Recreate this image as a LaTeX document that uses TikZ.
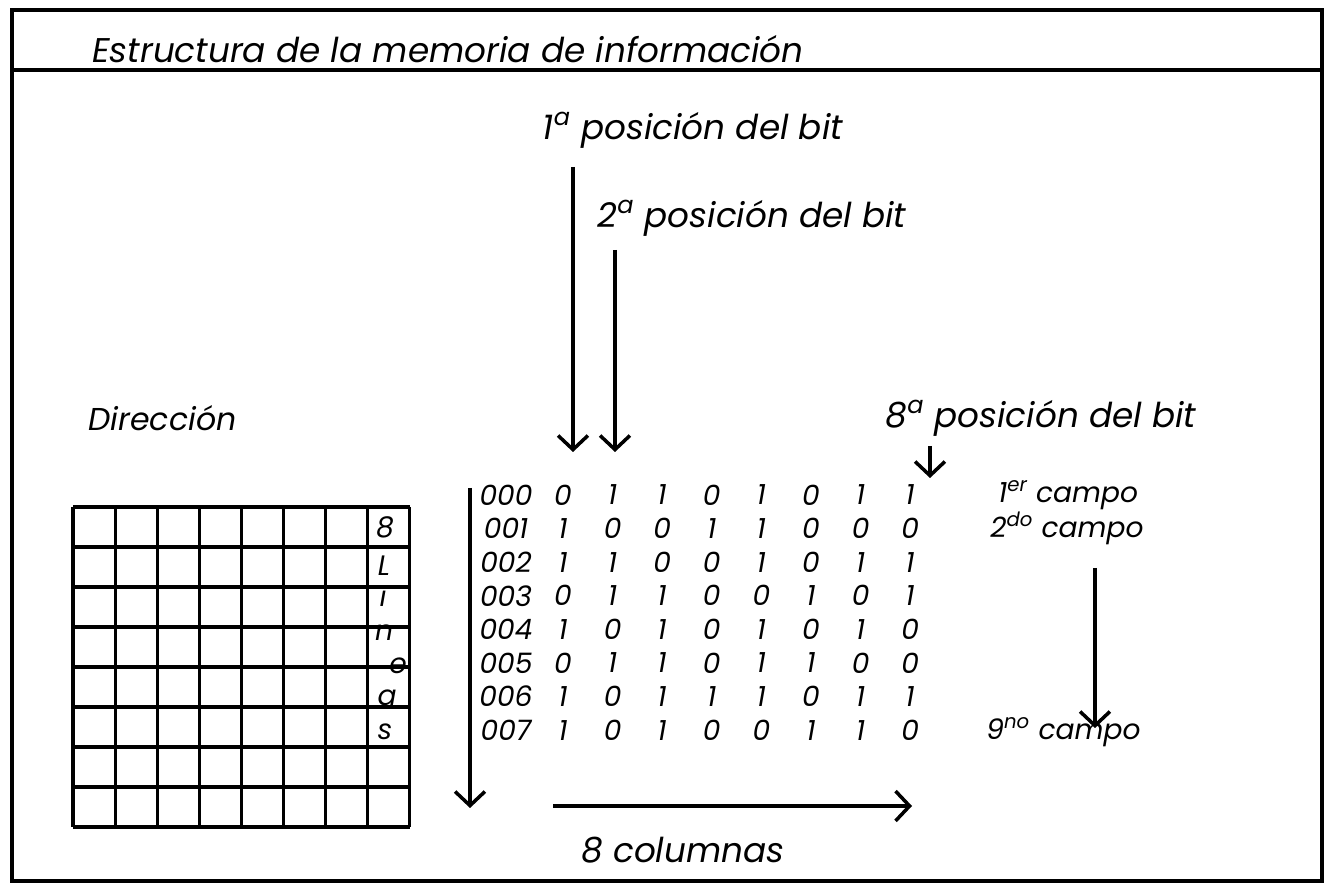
\documentclass[tikz,border=0pt]{standalone}
\usepackage{fontspec}
\setmainfont{Poppins}
\usetikzlibrary{arrows.meta}

\begin{document}
\begin{tikzpicture}[x=0.02cm,y=-0.02cm,
	lbl/.style={font=\fontsize{19.5}{22}\selectfont\itshape, inner sep=0pt},
	dig/.style={font=\fontsize{16}{19}\selectfont\itshape, inner sep=0pt},
	pile/.style={line width=2pt, -{Straight Barb[length=8pt,width=17pt,line width=2pt]}},
	edge/.style={line width=2.8pt},
	cell/.style={line width=1.8pt}]

	\useasboundingbox (0,0) rectangle (1330,884);

	% Frame
	\draw [edge] (12,10) rectangle (1322,881);
	\draw [edge] (12,70) -- (1322,70);
	\node [lbl, anchor=base west] (title) at (92,63) {Estructura de la memoria de información};

	% Bit positions
	\node [lbl] (pos1) at (693,130) {1\textsuperscript{a} posición del bit};
	\node [lbl] (pos2) at (752,218) {2\textsuperscript{a} posición del bit};
	\node [lbl] (pos8) at (1041,418) {8\textsuperscript{a} posición del bit};
	\node [lbl, anchor=west, font=\fontsize{18}{21}\selectfont\itshape] (dir) at (88,418) {Dirección};

	\coordinate (p1a) at (573,167);
	\coordinate (p1b) at (573,452);
	\coordinate (p2a) at (615,250);
	\coordinate (p2b) at (615,452);
	\coordinate (p8a) at (930,446);
	\coordinate (p8b) at (930,478);
	\draw [pile] (p1a) -- (p1b);
	\draw [pile] (p2a) -- (p2b);
	\draw [pile] (p8a) -- (p8b);

	% Grid
	\foreach \i in {0,...,8} {
		\draw [cell] (73+42.1*\i,507) -- (73+42.1*\i,827);
		\draw [cell] (73,507+40*\i) -- (410,507+40*\i);
	}
	\node [dig] (g8) at (385,527) {8};
	\node [dig] (gL) at (384,566) {L};
	\node [dig] (gi) at (383,599) {ı};
	\node [dig] (gn) at (384,633) {n};
	\node [dig] (ge) at (398,666) {e};
	\node [dig] (ga) at (387,698) {a};
	\node [dig] (gs) at (385,732) {s};

	% Memory table
	\foreach \bits [count=\r from 0] in {
		{0,1,1,0,1,0,1,1},
		{1,0,0,1,1,0,0,0},
		{1,1,0,0,1,0,1,1},
		{0,1,1,0,0,1,0,1},
		{1,0,1,0,1,0,1,0},
		{0,1,1,0,1,1,0,0},
		{1,0,1,1,1,0,1,1},
		{1,0,1,0,0,1,1,0}} {
		\node [dig] (addr\r) at (506,495+33.6*\r) {00\r};
		\foreach \b [count=\c from 0] in \bits
			\node [dig] (bit\r-\c) at (563+49.6*\c,495+33.6*\r) {\b};
	}

	\coordinate (rowa) at (470,488);
	\coordinate (rowb) at (470,808);
	\coordinate (cola) at (553,806);
	\coordinate (colb) at (912,806);
	\draw [pile] (rowa) -- (rowb);
	\draw [pile] (cola) -- (colb);
	\node [lbl] (cols) at (683,850) {8 columnas};

	% Fields
	\node [dig, anchor=west] (camp1) at (998,495) {1\textsuperscript{er} campo};
	\node [dig, anchor=west] (camp2) at (990,528) {2\textsuperscript{do} campo};
	\node [dig, anchor=west] (camp9) at (986,732) {9\textsuperscript{no} campo};
	\coordinate (fa) at (1095,568);
	\coordinate (fb) at (1095,728);
	\draw [pile] (fa) -- (fb);

\end{tikzpicture}
\end{document}
